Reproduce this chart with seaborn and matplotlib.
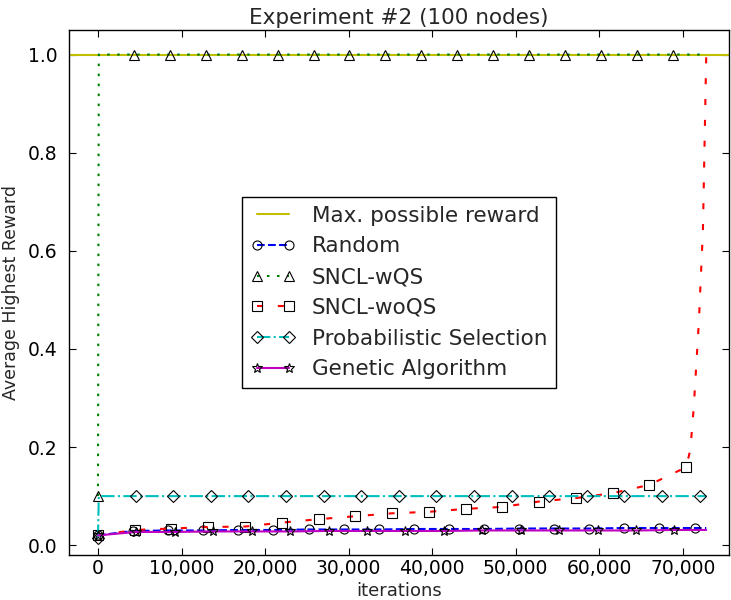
"""Experiment #2 (100 nodes): average highest reward vs iterations."""
import matplotlib

matplotlib.use("Agg")
import matplotlib.pyplot as plt
import seaborn as sns
from matplotlib.ticker import FuncFormatter

sns.set_style("ticks")
plt.rcParams["font.family"] = ["DejaVu Sans"]

MAX_REWARD = 1.0

# Random (circles every 4,200 iterations)
random_iters = [0, 4200, 8400, 12600, 16800, 21000, 25200, 29400, 33600, 37800,
                42000, 46200, 50400, 54600, 58800, 63000, 67200, 71400, 72800]
random_vals = [0.020, 0.029, 0.030, 0.030, 0.031, 0.031, 0.032, 0.032, 0.032, 0.033,
               0.033, 0.033, 0.034, 0.034, 0.034, 0.035, 0.035, 0.035, 0.035]

# SNCL-wQS (triangles every 4,300 iterations)
wqs_iters = [0, 100, 4300, 8600, 12900, 17200, 21500, 25800, 30100, 34400, 38700,
             43000, 47300, 51600, 55900, 60200, 64500, 68800, 72800]
wqs_vals = [0.100, 1.000, 1.000, 1.000, 1.000, 1.000, 1.000, 1.000, 1.000, 1.000, 1.000,
            1.000, 1.000, 1.000, 1.000, 1.000, 1.000, 1.000, 1.000]

# SNCL-woQS (squares every 4,400 iterations, sharp rise at the end)
woqs_iters = [0, 4400, 8800, 13200, 17600, 22000, 26400, 30800, 35200, 39600, 44000,
              48400, 52800, 57200, 61600, 66000, 70400, 70900, 71300, 71900, 72400, 72800]
woqs_vals = [0.020, 0.031, 0.034, 0.037, 0.038, 0.046, 0.053, 0.059, 0.065, 0.068, 0.074,
             0.078, 0.089, 0.096, 0.106, 0.123, 0.159, 0.195, 0.280, 0.450, 0.640, 1.000]

# Probabilistic Selection (diamonds every 4,500 iterations)
prob_iters = [0, 100, 4500, 9000, 13500, 18000, 22500, 27000, 31500, 36000, 40500,
              45000, 49500, 54000, 58500, 63000, 67500, 72000, 72800]
prob_vals = [0.015, 0.100, 0.100, 0.100, 0.100, 0.100, 0.100, 0.100, 0.100, 0.100, 0.100,
             0.100, 0.100, 0.100, 0.100, 0.100, 0.100, 0.100, 0.100]

# Genetic Algorithm (stars every 4,600 iterations)
ga_iters = [0, 4600, 9200, 13800, 18400, 23000, 27600, 32200, 36800, 41400, 46000,
            50600, 55200, 59800, 64400, 69000, 72800]
ga_vals = [0.020, 0.027, 0.027, 0.028, 0.028, 0.028, 0.029, 0.029, 0.029, 0.029, 0.030,
           0.030, 0.030, 0.030, 0.030, 0.031, 0.031]

X_TICKS = [0, 10000, 20000, 30000, 40000, 50000, 60000, 70000]
Y_TICKS = [0.0, 0.2, 0.4, 0.6, 0.8, 1.0]

fig, ax = plt.subplots(figsize=(7.31, 6.0), dpi=100)
fig.subplots_adjust(left=0.094, right=0.997, top=0.95, bottom=0.075)

marker_kw = dict(mfc="none", mec="k", mew=0.8, lw=1.5)

ax.axhline(MAX_REWARD, color=(0.75, 0.75, 0.0), lw=1.5, label="Max. possible reward")

sns.lineplot(x=random_iters, y=random_vals, ax=ax, color="b", linestyle="--",
             marker="o", ms=6.5, markevery=list(range(len(random_iters) - 1)),
             label="Random", **marker_kw)
sns.lineplot(x=wqs_iters, y=wqs_vals, ax=ax, color=(0.0, 0.5, 0.0),
             linestyle=(0, (1.2, 3.6)), marker="^", ms=7,
             markevery=[0] + list(range(2, len(wqs_iters) - 1)),
             label="SNCL-wQS", **marker_kw)
sns.lineplot(x=woqs_iters, y=woqs_vals, ax=ax, color="r", linestyle=(0, (2.9, 7.1)),
             marker="s", ms=6.5, markevery=list(range(17)),
             label="SNCL-woQS", **marker_kw)
sns.lineplot(x=prob_iters, y=prob_vals, ax=ax, color=(0.0, 0.75, 0.75), linestyle="-.",
             marker="D", ms=6.5, markevery=[0] + list(range(2, len(prob_iters) - 1)),
             label="Probabilistic Selection", **marker_kw)
sns.lineplot(x=ga_iters, y=ga_vals, ax=ax, color=(0.75, 0.0, 0.75), linestyle="-",
             marker="*", ms=7, markevery=list(range(len(ga_iters) - 1)),
             label="Genetic Algorithm", **marker_kw)

ax.set_xlim(-3500, 75500)
ax.set_ylim(-0.02, 1.05)
ax.set_xticks(X_TICKS)
ax.set_yticks(Y_TICKS)
ax.xaxis.set_major_formatter(FuncFormatter(lambda v, p: f"{int(v):,}"))
ax.yaxis.set_major_formatter(FuncFormatter(lambda v, p: f"{v:.1f}"))
ax.tick_params(direction="in", top=True, right=True, length=5, width=0.8,
               labelsize=13.5, colors="k")
ax.tick_params(axis="x", pad=3)
ax.tick_params(axis="y", pad=8)
for side in ax.spines.values():
    side.set_color("k")
    side.set_linewidth(1.0)

ax.set_xlabel("iterations", fontsize=13, labelpad=3)
ax.set_ylabel("Average Highest Reward", fontsize=12.5, labelpad=6)
ax.set_title("Experiment #2 (100 nodes)", fontsize=15.5, pad=4)

leg = ax.legend(loc="center", numpoints=2, fontsize=15.5, fancybox=False, framealpha=1,
                edgecolor="k", handlelength=2.1, handletextpad=0.75, labelspacing=0.5,
                borderpad=0.4, borderaxespad=0.3)
leg.get_frame().set_linewidth(1.0)

plt.savefig("out.png", dpi=100)
plt.close()
